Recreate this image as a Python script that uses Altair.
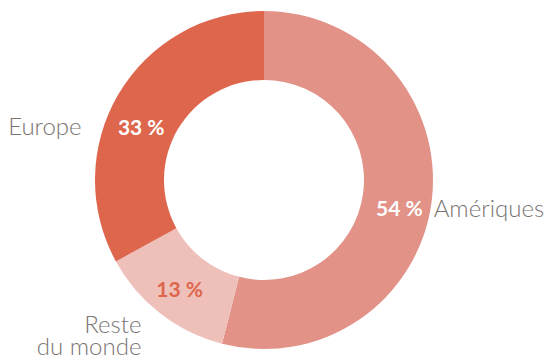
import altair as alt
import pandas as pd
import math

categories = ["Amériques", "Reste du monde", "Europe"]
display_names = ["Amériques", "Reste\ndu monde", "Europe"]
shares = [54, 13, 33]
pct_labels = ["54 %", "13 %", "33 %"]
colors = ["#E29287", "#EFC0BA", "#DD664D"]

df = pd.DataFrame({"cat": categories, "name": display_names, "share": shares,
                   "pct": pct_labels, "order": [0, 1, 2]})

CX, CY = 256, 172
R_OUT, R_IN = 169, 100
R_MID = (R_OUT + R_IN) / 2

base = alt.Chart(df)

arcs = base.mark_arc(outerRadius=R_OUT, innerRadius=R_IN, stroke=None).encode(
    theta=alt.Theta("share:Q", stack=True, scale=alt.Scale(domain=[0, 100], range=[0, 2 * math.pi])),
    order=alt.Order("order:Q"),
    color=alt.Color("cat:N", scale=alt.Scale(domain=categories, range=colors), legend=None),
    x=alt.value(CX), y=alt.value(CY),
)

def mid_base():
    return base.transform_window(
        cum="sum(share)", sort=[alt.SortField("order")], frame=[None, 0]
    ).transform_calculate(mid="datum.cum - datum.share / 2")

def label(cat, text_field, r, dx, dy, color, weight, size, align="center", baseline="middle", multi=False):
    kw = dict(dx=dx, dy=dy, align=align, baseline=baseline, fontSize=size,
              fontWeight=weight, font="Lato", color=color, radius=r)
    if multi:
        kw["lineBreak"] = "\n"
        kw["lineHeight"] = 22
    return mid_base().transform_filter(alt.datum.cat == cat).mark_text(**kw).encode(
        theta=alt.Theta("mid:Q", stack=None, scale=alt.Scale(domain=[0, 100], range=[0, 2 * math.pi])),
        text=alt.Text(text_field),
        x=alt.value(CX), y=alt.value(CY),
    )

gray = "#7a7472"
layers = [
    arcs,
    label("Amériques", "pct:N", R_MID, 2, 13, "white", "bold", 21),
    label("Reste du monde", "pct:N", R_MID, -2, 5, "#DD664D", "bold", 21),
    label("Europe", "pct:N", R_MID, -7, 17, "white", "bold", 21),
    label("Amériques", "name:N", R_OUT, 2, 9, gray, 300, 24, align="left"),
    label("Europe", "name:N", R_OUT, -37, 34, gray, 300, 24, align="right"),
    label("Reste du monde", "name:N", R_OUT, -19, 0, gray, 300, 24, align="right", baseline="top", multi=True),
]

chart = alt.layer(*layers).resolve_scale(theta="independent").properties(
    width=537, height=348, autosize=alt.AutoSizeParams(type="none"), padding=0
).configure_view(stroke=None)

chart.save("out.html", embed_options={"renderer": "svg", "actions": False})
